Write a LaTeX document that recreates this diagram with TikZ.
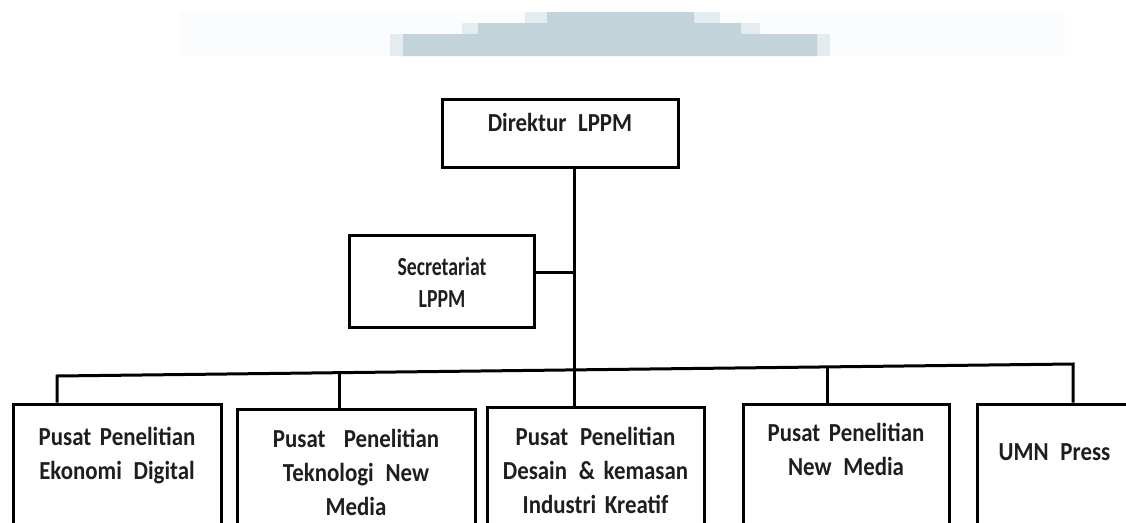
\documentclass[tikz,border=0pt]{standalone}
\usepackage{fontspec}
\setmainfont{Carlito}[FakeStretch=0.88]
\newfontfamily\narrowfont{Carlito}[FakeStretch=0.76]
\definecolor{haze}{RGB}{195,211,218}
\definecolor{hazelight}{RGB}{228,236,240}
\definecolor{hazefaint}{RGB}{250,252,253}
\definecolor{ink}{RGB}{30,30,30}
\newcommand{\gap}{\hspace{0.45em}}
\tikzset{
	unit/.style={draw, line width=3pt, inner sep=0pt, anchor=base, align=center, text=ink, font=\bfseries\fontsize{26}{34}\selectfont},
	link/.style={line width=3pt},
}
\begin{document}
\begin{tikzpicture}[x=1pt,y=-1pt]
		\useasboundingbox (0,0) rectangle (1126,522);
		% faded banner at the top
		\fill[hazefaint] (180,12) rectangle (1065,56);
		\fill[hazelight] (525,12)--(720,12)--(720,23)--(760,23)--(760,34)--(830,34)--(830,56)--(390,56)--(390,34)--(462,34)--(462,23)--(525,23)--cycle;
		\fill[haze] (547,12)--(694,12)--(694,23)--(741,23)--(741,34)--(817,34)--(817,56)--(403,56)--(403,34)--(478,34)--(478,23)--(547,23)--cycle;
		% boxes
		\node[unit, text width=236pt, text height=32pt, text depth=36pt] (dir) at (560,131) {Direktur\gap LPPM};
		\node[unit, text width=185pt, text height=40pt, text depth=52pt, font=\narrowfont\bfseries\fontsize{26}{32}\selectfont] (sec) at (442,275) {Secretariat\\LPPM};
		\node[unit, text width=208pt, text height=41pt, text depth=120pt] (b1) at (117,445) {Pusat Penelitian\\Ekonomi\gap Digital};
		\node[unit, text width=238pt, text height=38pt, text depth=120pt] (b2) at (356,447) {Pusat\hspace{0.7em}Penelitian\\Teknologi\gap New\\Media};
		\node[unit, text width=217pt, text height=38pt, text depth=120pt] (b3) at (595.5,445) {Pusat\gap Penelitian\\Desain\gap\& kemasan\\Industri Kreatif};
		\node[unit, text width=206pt, text height=37pt, text depth=120pt] (b4) at (846,441) {Pusat Penelitian\\New\gap Media};
		\node[unit, text width=155pt, text height=56pt, text depth=120pt] (b5) at (1054.5,460) {UMN\gap Press};
		% joints
		\coordinate (j1) at (57,376);
		\coordinate (j2) at (339,372.7);
		\coordinate (j3) at (574,369.9);
		\coordinate (j4) at (827,366.9);
		\coordinate (j5) at (1073,364);
		\coordinate (secj) at (574,272);
		% connectors
		\draw[link] (dir.south -| j3)--(j3)--(b3.north -| j3);
		\draw[link] (secj -| sec.east)--(secj);
		\draw[link] (b1.north -| j1)--(j1)--(j5)--(b5.north -| j5);
		\draw[link] (j2)--(b2.north -| j2);
		\draw[link] (j4)--(b4.north -| j4);
	\end{tikzpicture}
\end{document}
